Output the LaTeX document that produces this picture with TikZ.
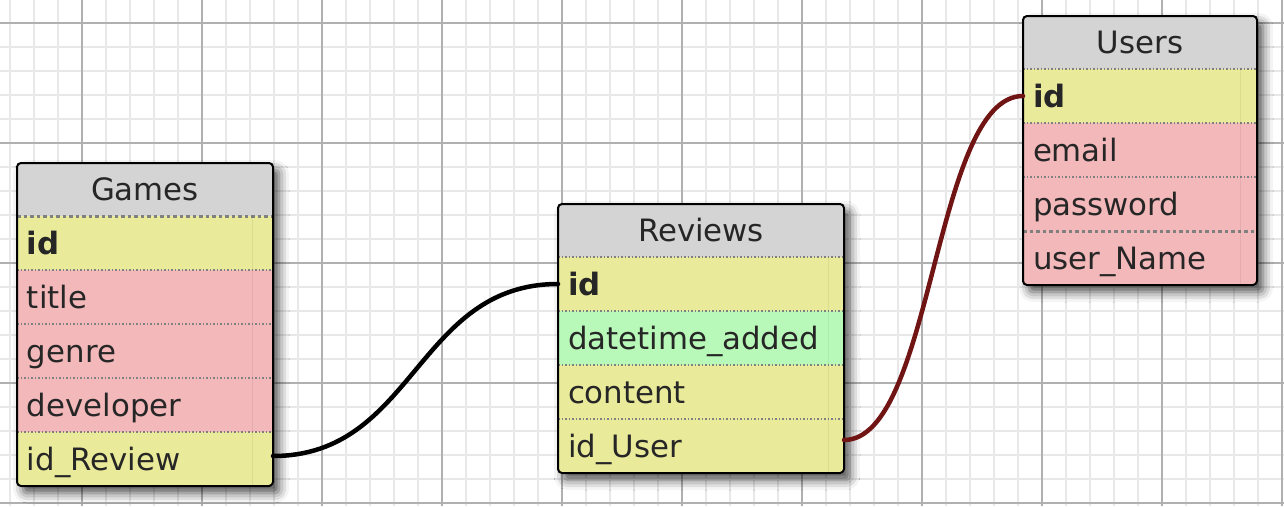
\documentclass[tikz,border=0pt]{standalone}
\usepackage{fontspec}
\setmainfont{DejaVu Sans}
\usepackage{tikz}
\usetikzlibrary{positioning, fit, shadows.blur, backgrounds}

\definecolor{headgray}{HTML}{D4D4D4}
\definecolor{keyyellow}{HTML}{EAEA9B}
\definecolor{colpink}{HTML}{F2B8BA}
\definecolor{colgreen}{HTML}{B8F8B8}
\definecolor{linkred}{HTML}{701414}
\definecolor{textgray}{HTML}{262626}
\definecolor{minorgrid}{HTML}{E8E8E8}
\definecolor{majorgrid}{HTML}{B0B0B0}

\begin{document}
\begin{tikzpicture}[
            x=1pt, y=-1pt,
            node distance=0pt,
            row/.style={rectangle, outer sep=0pt, inner xsep=10pt, inner ysep=0pt, text width=236pt, minimum height=54pt, text height=22pt, text depth=0pt, align=left, text=textgray, font=\fontsize{30.8}{36}\selectfont},
            head/.style={row, fill=headgray, minimum height=53pt, align=center},
            key/.style={row, fill=keyyellow, font=\fontsize{30.8}{36}\selectfont\bfseries},
            yel/.style={row, fill=keyyellow},
            pink/.style={row, fill=colpink},
            green/.style={row, fill=colgreen},
            wide/.style={text width=266pt},
            narrow/.style={text width=214pt},
            frame/.style={draw, line width=2pt, rounded corners=4pt, inner sep=0pt},
            shade/.style={fill=white, rounded corners=4pt, inner sep=0pt, blur shadow={shadow xshift=6pt, shadow yshift=-7pt, shadow blur radius=10pt, shadow opacity=70}},
            sep/.style={draw=gray, line width=1.5pt, dash pattern=on 1.5pt off 2pt},
            boldsep/.style={draw=gray, line width=3pt, dash pattern=on 3.5pt off 3pt},
            link/.style={line width=4.5pt, line cap=round}
        ]
            \useasboundingbox (0,0) rectangle (1284,506);

            % Nodes
            \node[head, anchor=north west] (gHead) at (17,163) {Games};
            \node[key, below=of gHead] (gId) {id};
            \node[pink, below=of gId] (gTitle) {title};
            \node[pink, below=of gTitle] (gGenre) {genre};
            \node[pink, below=of gGenre] (gDev) {developer};
            \node[yel, below=of gDev] (gRev) {id\_Review};

            \node[head, wide, anchor=north west] (rHead) at (558,204) {Reviews};
            \node[key, wide, below=of rHead] (rId) {id};
            \node[green, wide, below=of rId] (rDate) {datetime\_added};
            \node[yel, wide, below=of rDate] (rContent) {content};
            \node[yel, wide, below=of rContent] (rUser) {id\_User};

            \node[head, narrow, anchor=north west] (uHead) at (1023,16) {Users};
            \node[key, narrow, below=of uHead] (uId) {id};
            \node[pink, narrow, below=of uId] (uMail) {email};
            \node[pink, narrow, below=of uMail] (uPass) {password};
            \node[pink, narrow, below=of uPass] (uName) {user\_Name};

            % Grid and shadows
            \begin{pgfonlayer}{background}
                \foreach \x in {10,34,...,1282} \draw[minorgrid, line width=2pt] (\x,0) -- (\x,506);
                \foreach \y in {-1,23,...,503} \draw[minorgrid, line width=2pt] (0,\y) -- (1284,\y);
                \foreach \x in {82,202,...,1282} \draw[majorgrid, line width=2pt] (\x,0) -- (\x,506);
                \foreach \y in {23,143,...,503} \draw[majorgrid, line width=2pt] (0,\y) -- (1284,\y);
                \node[shade, fit=(gHead) (gRev)] {};
                \node[shade, fit=(rHead) (rUser)] {};
                \node[shade, fit=(uHead) (uName)] {};
            \end{pgfonlayer}

            % Row lines
            \foreach \n in {gId,gTitle,gGenre,gDev,rHead,rId,rDate,rContent,uHead,uId,uMail}
                \draw[sep] (\n.south west) -- (\n.south east);
            \foreach \n in {gHead,uPass}
                \draw[boldsep] (\n.south west) -- (\n.south east);
            \draw[black, opacity=0.06, line width=1pt] ([xshift=-21pt]gHead.south east) -- ([xshift=-21pt]gRev.south east);
            \draw[black, opacity=0.06, line width=1pt] ([xshift=-16pt]rHead.south east) -- ([xshift=-16pt]rUser.south east);
            \draw[black, opacity=0.06, line width=1pt] ([xshift=-17pt]uHead.south east) -- ([xshift=-17pt]uName.south east);

            % Tables
            \node[frame, fit=(gHead) (gRev)] (games) {};
            \node[frame, fit=(rHead) (rUser)] (reviews) {};
            \node[frame, fit=(uHead) (uName)] (users) {};

            % Links
            \path[link]
                ([yshift=3pt]gRev.east) edge[out=0, in=180, looseness=1.09] (rId.west);
            \path[link, linkred]
                ([yshift=6pt]rUser.east) edge[out=0, in=180, looseness=0.59] (uId.west);

        \end{tikzpicture}
\end{document}
